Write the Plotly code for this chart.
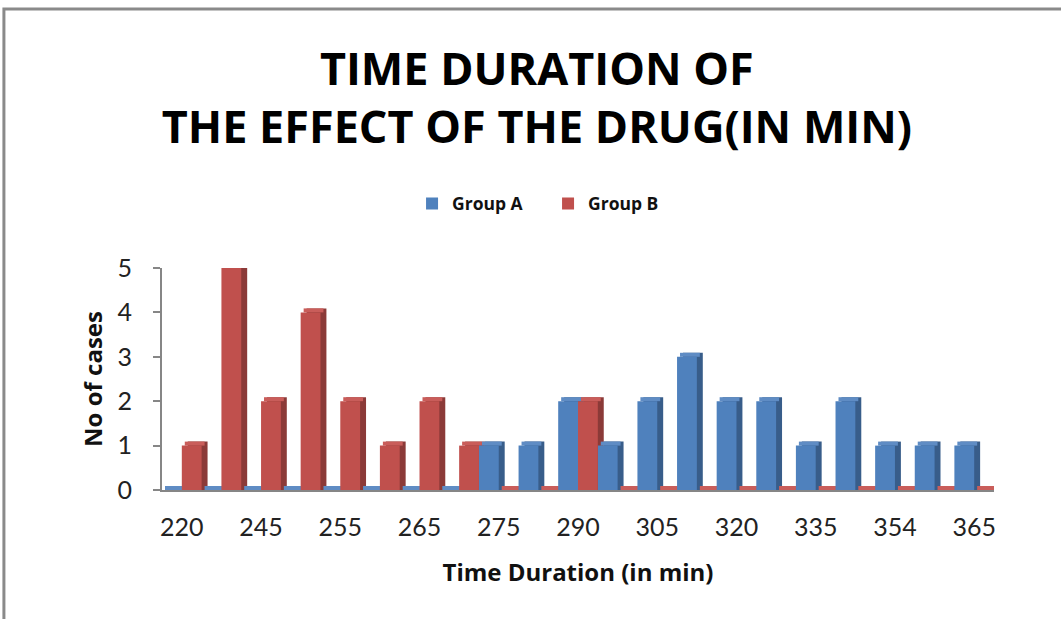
import plotly.graph_objects as go

# ---- data ----
categories = ["220", "240", "245", "250", "255", "260", "265", "270", "275", "280", "290",
              "295", "305", "310", "320", "325", "335", "345", "354", "360", "365"]
group_a = [0, 0, 0, 0, 0, 0, 0, 0, 1, 1, 2, 1, 2, 3, 2, 2, 1, 2, 1, 1, 1]
group_b = [1, 5, 2, 4, 2, 1, 2, 1, 0, 0, 2, 0, 0, 0, 0, 0, 0, 0, 0, 0, 0]
tick_labels = ["220", "245", "255", "265", "275", "290", "305", "320", "335", "354", "365"]
yticks = [0, 1, 2, 3, 4, 5]

# ---- styling ----
TICK_FONT = "Lato"
BOLD_FONT = "Open Sans"
BLUE, BLUE_SIDE, BLUE_TOP = "#4F81BD", "#385D8A", "#5F8CC4"
RED, RED_SIDE, RED_TOP = "#C0504D", "#8B3A38", "#C95D5A"
DEPTH_X = 0.15   # fake 3-D depth in category units
DEPTH_Y = 0.09   # fake 3-D depth in value units

fig = go.Figure()

def add_series(values, offset, name, front, side, top):
    pass

# depth (side) faces, drawn first
for vals, off, side in [(group_a, -0.5, BLUE_SIDE), (group_b, 0.0, RED_SIDE)]:
    fig.add_trace(go.Bar(x=categories, y=[v + DEPTH_Y for v in vals], offset=off + DEPTH_X, width=0.5,
                         marker=dict(color=side, line=dict(width=0)), showlegend=False,
                         hoverinfo="skip", cliponaxis=False))
# top faces
for vals, off, top in [(group_a, -0.5, BLUE_TOP), (group_b, 0.0, RED_TOP)]:
    fig.add_trace(go.Bar(x=categories, y=[DEPTH_Y] * len(vals), base=vals,
                         offset=off + DEPTH_X / 2, width=0.5,
                         marker=dict(color=top, line=dict(width=0)), showlegend=False,
                         hoverinfo="skip", cliponaxis=False))
# front faces
fig.add_trace(go.Bar(x=categories, y=group_a, offset=-0.5, width=0.5, name="<b>Group A</b>",
                     marker=dict(color=BLUE, line=dict(width=0)), cliponaxis=False))
fig.add_trace(go.Bar(x=categories, y=group_b, offset=0, width=0.5, name="<b>Group B</b>",
                     marker=dict(color=RED, line=dict(width=0)), cliponaxis=False))

fig.update_layout(
    width=1061, height=619,
    barmode="overlay",
    paper_bgcolor="white", plot_bgcolor="white",
    margin=dict(l=162, r=67, t=268, b=129),
    font=dict(family=BOLD_FONT, color="#111"),
    title=dict(text="<b>TIME DURATION OF<br>THE EFFECT OF THE DRUG(IN MIN)</b>",
               x=0.506, xanchor="center", y=0.863, yanchor="middle", yref="container",
               font=dict(family=BOLD_FONT, size=45, color="#000")),
    legend=dict(orientation="h", x=0.464, xanchor="center", y=1.29, yanchor="middle",
                font=dict(family=BOLD_FONT, size=17.5, color="#111"),
                entrywidth=91, entrywidthmode="pixels", traceorder="normal",
                bgcolor="rgba(0,0,0,0)"),
    showlegend=True,
    xaxis=dict(type="category", categoryorder="array", categoryarray=categories,
               range=[-0.5, len(categories) - 0.5],
               tickmode="array", tickvals=tick_labels, ticktext=tick_labels,
               ticks="", showline=True, linecolor="#868686", linewidth=2,
               showgrid=False, zeroline=False,
               tickfont=dict(family=TICK_FONT, size=25, color="#222"), ticklabelstandoff=14,
               title=dict(text="<b>Time Duration (in min)</b>", standoff=24,
                          font=dict(family=BOLD_FONT, size=24, color="#111"))),
    yaxis=dict(range=[0, 5], tickmode="array", tickvals=yticks,
               ticks="outside", ticklen=7, tickcolor="#868686", tickwidth=2,
               showline=True, linecolor="#868686", linewidth=2,
               showgrid=False, zeroline=False,
               tickfont=dict(family=TICK_FONT, size=25, color="#222"), ticklabelstandoff=16,
               title=dict(text="<b>No of cases</b>", standoff=8,
                          font=dict(family=BOLD_FONT, size=24, color="#111"))),
    shapes=[dict(type="rect", xref="paper", yref="paper",
                 x0=-0.19, x1=1.3, y0=-1.5, y1=2.167,
                 line=dict(color="#8A8A8A", width=3), fillcolor="rgba(0,0,0,0)", layer="below")],
)

fig.write_html("out.html", config={"displayModeBar": False},
               post_script="document.body.style.margin='0px';")
